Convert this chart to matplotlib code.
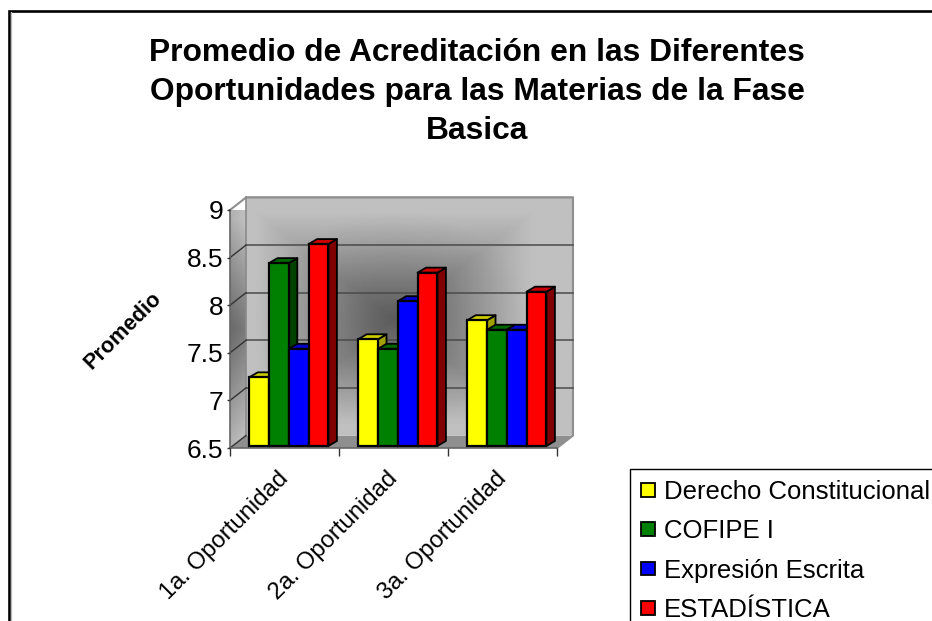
import numpy as np
import matplotlib
matplotlib.use("Agg")
import matplotlib.pyplot as plt
from matplotlib.patches import Polygon, Patch
from matplotlib.lines import Line2D
from matplotlib.transforms import ScaledTranslation

categories = ["1a. Oportunidad", "2a. Oportunidad", "3a. Oportunidad"]
series_names = ["Derecho Constitucional", "COFIPE I", "Expresión Escrita", "ESTADÍSTICA"]
derecho = [7.2, 7.6, 7.8]
cofipe = [8.4, 7.5, 7.7]
expresion = [7.5, 8.0, 7.7]
estadistica = [8.6, 8.3, 8.1]
series_values = [derecho, cofipe, expresion, estadistica]
y_ticks = [6.5, 7, 7.5, 8, 8.5, 9]
y_labels = ["6.5", "7", "7.5", "8", "8.5", "9"]
front_colors = ["#ffff00", "#008000", "#0000ff", "#ff0000"]
top_colors = ["#cccc00", "#006600", "#0000cc", "#cc0000"]
side_colors = ["#a0a000", "#004000", "#000080", "#800000"]
title = "Promedio de Acreditación en las Diferentes\nOportunidades para las Materias de la Fase\nBasica"

W, H = 932, 621
plt.rcParams["font.family"] = ["Liberation Sans", "DejaVu Sans"]
fig = plt.figure(figsize=(W / 100, H / 100), dpi=100, facecolor="white")

L, R, T, B = 230, 557, 210, 448
ax = fig.add_axes([L / W, 1 - B / H, (R - L) / W, (B - T) / H])
ax.patch.set_alpha(0)
px_x = (R - L) / 3.0
px_y = (B - T) / 2.5
def dx(p): return p / px_x
def dy(p): return p / px_y
DX, DY = dx(16), dy(12.5)

def shade(xs, ys, cx, cy, rx, ry, lo, hi):
    X, Y = np.meshgrid(xs, ys)
    d = np.clip(np.maximum(np.abs(X - cx) / rx, np.abs(Y - cy) / ry), 0, 1)
    r = np.clip(np.hypot((X - cx) / rx, (Y - cy) / ry), 0, 1)
    m = 0.75 * d + 0.25 * r
    return lo + (hi - lo) * m ** 1.15

# back wall
xs = np.linspace(DX, 3 + DX, 300)
ys = np.linspace(6.5 + DY, 9 + DY, 220)
back = shade(xs, ys, 1.36 + DX, 7.72 + DY, 1.28, 1.12, 92, 192)
ax.imshow(back, extent=(xs[0], xs[-1], ys[0], ys[-1]), origin="lower", cmap="gray",
          vmin=0, vmax=255, aspect="auto", zorder=0.5, clip_on=False, interpolation="bilinear")

# left wall
xs2 = np.linspace(0, DX, 30)
ys2 = np.linspace(6.5, 9 + DY, 220)
X2, Y2 = np.meshgrid(xs2, ys2)
left = 105 + 70 * np.clip(np.abs(Y2 - 7.75) / 1.15, 0, 1) ** 1.1 + 18 * (X2 / DX)
im = ax.imshow(left, extent=(0, DX, 6.5, 9 + DY), origin="lower", cmap="gray", vmin=0, vmax=255,
               aspect="auto", zorder=0.5, interpolation="bilinear")
clip = Polygon([(0, 6.5), (DX, 6.5 + DY), (DX, 9 + DY), (0, 9)], transform=ax.transData)
im.set_clip_path(clip)

# floor
ax.add_patch(Polygon([(0, 6.5), (3, 6.5), (3 + DX, 6.5 + DY), (DX, 6.5 + DY)], closed=True,
                     fc="#8f8f8f", ec="none", zorder=1, clip_on=False))
# wall outlines and gridlines
ax.plot([0, DX, 3 + DX, 3 + DX, 3], [9, 9 + DY, 9 + DY, 6.5 + DY, 6.5], color="#8f8f8f", lw=1.5,
        zorder=1.2, clip_on=False, solid_joinstyle="miter")
ax.plot([DX, DX], [6.5 + DY, 9 + DY], color="#8a8a8a", lw=1.2, zorder=1.2, clip_on=False)
for t in y_ticks[1:-1]:
    ax.plot([DX, 3 + DX], [t + DY, t + DY], color="#4a4a4a", lw=1.1, zorder=1.3, clip_on=False)
for t in y_ticks[:-1]:
    ax.plot([0, DX], [t, t + DY], color="#333333", lw=1.0, zorder=1.3, clip_on=False)

# bars
bar_w = 19.8 / px_x
shift, base_up, top_up = dx(4.3), dy(2), dy(4)
bdx, bdy = dx(8.5), dy(5)
z = 3.0
for g in range(3):
    for s, vals in enumerate(series_values):
        x0 = g + 0.5 + shift + (s - 2) * bar_w
        x1 = x0 + bar_w
        y0, y1 = 6.5 + base_up, vals[g] + top_up
        ax.add_patch(Polygon([(x1, y0), (x1 + bdx, y0 + bdy), (x1 + bdx, y1 + bdy), (x1, y1)],
                             fc=side_colors[s], ec="black", lw=1.3, zorder=z, clip_on=False,
                             joinstyle="round"))
        ax.add_patch(Polygon([(x0, y1), (x1, y1), (x1 + bdx, y1 + bdy), (x0 + bdx, y1 + bdy)],
                             fc=top_colors[s], ec="black", lw=1.3, zorder=z, clip_on=False,
                             joinstyle="round"))
        ax.bar(x0, y1 - y0, width=bar_w, bottom=y0, align="edge", color=front_colors[s],
               edgecolor="black", linewidth=1.6, zorder=z + 0.1, clip_on=False)
        z += 0.2

# axes
ax.set_xlim(0, 3)
ax.set_ylim(6.5, 9)
for sp in ("top", "right"):
    ax.spines[sp].set_visible(False)
for sp in ("left", "bottom"):
    ax.spines[sp].set_color("#666666")
    ax.spines[sp].set_linewidth(1.2)
    ax.spines[sp].set_zorder(1.4)
ax.set_yticks(y_ticks)
ax.set_yticklabels(y_labels, fontsize=19)
ax.tick_params(axis="y", length=2, width=1, color="#333333", pad=3)
ax.set_xticks([0.5, 1.5, 2.5])
ax.set_xticklabels(categories, fontsize=17.2, rotation=45, ha="right", va="top", rotation_mode="anchor")
ax.set_xticks([0, 1, 2, 3], minor=True)
ax.tick_params(axis="x", which="major", length=0, pad=14)
ax.tick_params(axis="x", which="minor", length=5.5, width=1, color="#333333")
for lab in ax.get_xticklabels():
    lab.set_transform(lab.get_transform() + ScaledTranslation(-7 / 100, 0, fig.dpi_scale_trans))

fig.text(477 / W, 1 - 92 / H, title, ha="center", va="center", fontsize=22.9, fontweight="bold",
         linespacing=1.4)
fig.text(123 / W, 1 - 331 / H, "Promedio", rotation=45, ha="center", va="center",
         rotation_mode="anchor", fontsize=15.6, fontweight="bold")

# outer frame (top and left edges only reach the canvas)
fig.add_artist(Line2D([8.5 / W, 8.5 / W, 1], [0, 1 - 10.5 / H, 1 - 10.5 / H], color="black", lw=1.9,
                      transform=fig.transFigure, solid_joinstyle="miter"))
fig.add_artist(Line2D([10.5 / W, 10.5 / W], [0, 1 - 11.5 / H], color="#bbbbbb", lw=0.9,
                      transform=fig.transFigure))

handles = [Patch(fc=c, ec="black", lw=1.3) for c in front_colors]
leg = fig.legend(handles, series_names, loc="upper left", bbox_to_anchor=(630 / W, 1 - 469 / H),
                 bbox_transform=fig.transFigure, fontsize=18.5, frameon=True, fancybox=False,
                 edgecolor="black", framealpha=1, borderaxespad=0, borderpad=0.42,
                 labelspacing=0.6, handlelength=0.55, handleheight=0.45, handletextpad=0.35)
leg.get_frame().set_linewidth(1.0)

fig.savefig("out.png", dpi=100)
